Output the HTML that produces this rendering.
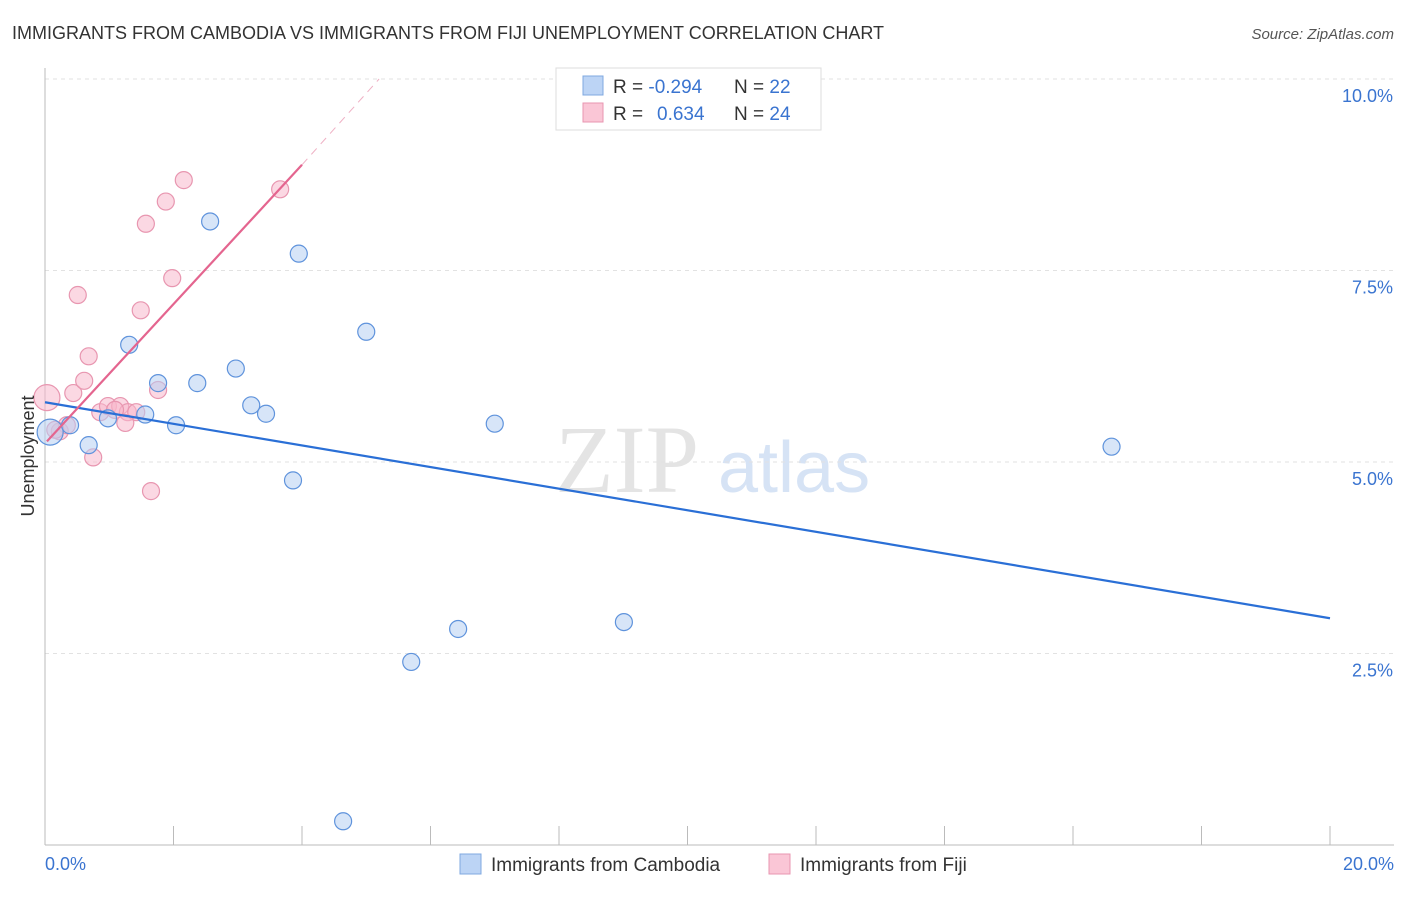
<!DOCTYPE html>
<html><head><meta charset="utf-8"><style>
body{margin:0;background:#fff;font-family:"Liberation Sans",sans-serif}
</style></head><body>
<svg width="1406" height="892" xmlns="http://www.w3.org/2000/svg">
<text x="12" y="39" font-size="18" fill="#333">IMMIGRANTS FROM CAMBODIA VS IMMIGRANTS FROM FIJI UNEMPLOYMENT CORRELATION CHART</text>
<text x="1394" y="39" font-size="15" fill="#555" font-style="italic" text-anchor="end">Source: ZipAtlas.com</text>
<text x="555" y="492" font-size="96" fill="#e4e4e4" font-family="Liberation Serif,serif">ZIP</text>
<text x="718" y="492" font-size="72" fill="#d6e3f5">atlas</text>
<g id="grid"></g>
<line x1="45" y1="68" x2="45" y2="845" stroke="#bbb"/>
<line x1="45" y1="845" x2="1394" y2="845" stroke="#bbb"/>
<g id="ticks"></g>
<g id="marks"></g>
<text x="34" y="456" font-size="18" fill="#333" text-anchor="middle" transform="rotate(-90 34 456)">Unemployment</text>
<text x="45" y="870" font-size="18" fill="#3a74d0">0.0%</text>
<text x="1394" y="870" font-size="18" fill="#3a74d0" text-anchor="end">20.0%</text>
<g>
<rect x="556" y="68" width="265" height="62" fill="#fff" stroke="#ddd"/>
<rect x="583" y="76" width="20" height="19" fill="#bcd4f5" stroke="#7fa8e0"/>
<rect x="583" y="103" width="20" height="19" fill="#fac6d6" stroke="#e896b0"/>
<text x="613" y="93" font-size="19" fill="#333">R = <tspan fill="#3a74d0">-0.294</tspan><tspan x="734">N = </tspan><tspan fill="#3a74d0">22</tspan></text>
<text x="613" y="120" font-size="19" fill="#333">R = <tspan fill="#3a74d0" x="657">0.634</tspan><tspan x="734">N = </tspan><tspan fill="#3a74d0">24</tspan></text>
</g>
<g>
<rect x="460" y="854" width="21" height="20" fill="#bcd4f5" stroke="#7fa8e0"/>
<text x="491" y="871" font-size="19" fill="#333">Immigrants from Cambodia</text>
<rect x="769" y="854" width="21" height="20" fill="#fac6d6" stroke="#e896b0"/>
<text x="800" y="871" font-size="19" fill="#333">Immigrants from Fiji</text>
</g>
</svg>
<script>
const yTicks=[2.5,5.0,7.5,10.0];
const yTickLabels=["2.5%","5.0%","7.5%","10.0%"];
const xTicks=[0,2,4,6,8,10,12,14,16,18,20];
const cambodiaX=[0.08,0.39,0.68,0.98,1.31,1.56,1.76,2.04,2.37,2.97,3.21,3.44,3.86,3.95,2.57,5.00,5.70,6.43,7.00,9.01,16.6,4.64];
const cambodiaY=[5.39,5.48,5.22,5.57,6.53,5.62,6.03,5.48,6.03,6.22,5.74,5.63,4.76,7.72,8.14,6.70,2.39,2.82,5.50,2.91,5.20,0.31];
const fijiX=[0.03,0.23,0.34,0.44,0.51,0.61,0.68,0.75,0.86,0.98,1.17,1.29,1.42,1.25,1.49,1.57,1.65,1.76,1.88,1.98,2.16,3.66,1.09,0.16];
const fijiY=[5.84,5.40,5.48,5.90,7.18,6.06,6.38,5.06,5.65,5.73,5.73,5.65,5.65,5.51,6.98,8.11,4.62,5.94,8.40,7.40,8.68,8.56,5.68,5.42];
const cambodiaTrend=[[0,5.78],[20,2.96]];
const fijiTrend=[[0.03,5.27],[4.0,8.88]];
const fijiTrendExt=[[4.0,8.88],[5.2,10.0]];
const X=v=>45+v/20*1285, Y=v=>845-v*76.6;
const NS="http://www.w3.org/2000/svg";
function mk(t,a,p){const e=document.createElementNS(NS,t);for(const k in a)e.setAttribute(k,a[k]);document.getElementById(p).appendChild(e);return e;}
yTicks.forEach((v,i)=>{
 const l=mk('line',{x1:45,x2:1394,y1:Y(v),y2:Y(v),stroke:'#e2e2e2','stroke-dasharray':'4,4'},'grid');
 
 
 const t=mk('text',{x:1393,y:Y(v)+23,'font-size':18,fill:'#3a74d0','text-anchor':'end'},'grid');
 t.textContent=yTickLabels[i];
 
 
});
xTicks.forEach(v=>{
 const l=mk('line',{x1:X(v),x2:X(v),y1:826,y2:845,stroke:'#bbb'},'ticks');
 
 
});
function pts(xs,ys,fill,stroke,name){xs.forEach((x,i)=>{
 const c=mk('circle',{cx:X(x),cy:Y(ys[i]),r:(i==0?13:8.5),fill:fill,'fill-opacity':0.55,stroke:stroke,'stroke-width':1.2},'marks');
 
 
});}
pts(fijiX,fijiY,'#f8b8cc','#e896b0','fiji-point');
pts(cambodiaX,cambodiaY,'#b6cff2','#5f93dc','cambodia-point');
function ln(p,col,dash,name){const l=mk('line',{x1:X(p[0][0]),y1:Y(p[0][1]),x2:X(p[1][0]),y2:Y(p[1][1]),stroke:col,'stroke-width':dash?1:2.2,'stroke-dasharray':dash?'8,6':'none'},'marks');
 
 }
ln(cambodiaTrend,'#2a6fd6',false,'cambodia-trendline');
ln(fijiTrend,'#e4658f',false,'fiji-trendline');
ln(fijiTrendExt,'#efb0c4',true,'fiji-trendline-extension');
</script>
</body></html>
